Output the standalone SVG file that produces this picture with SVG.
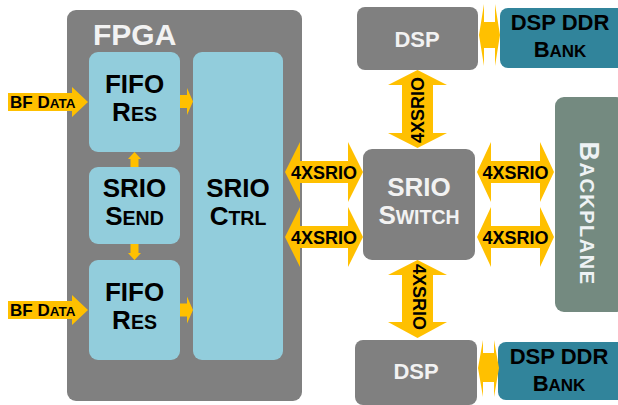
<svg xmlns="http://www.w3.org/2000/svg" width="618" height="405" viewBox="0 0 618 405">
<style>
text{font-family:"Liberation Sans",Arial,sans-serif;font-weight:bold;}
.arw{fill:#ffc000;}
.lb{fill:#92cddc;}
.gr{fill:#808080;}
.tl{fill:#31849b;}
.bk{fill:#000;}
.wt{fill:#f2f2f2;}
.big{font-size:26px;text-anchor:middle;}
.lbl{font-size:18px;text-anchor:middle;fill:#000;}
</style>
<rect width="618" height="405" fill="#fff"/>
<g id="fpga">
<rect x="67" y="10" width="235" height="391" rx="9" class="gr"/>
<text x="93" y="45" font-size="30" class="wt">FPGA</text>
</g>
<g id="fifo-res-top">
<rect x="89" y="52" width="91" height="100" rx="9" class="lb"/>
<text x="134.5" y="93" class="big bk">FIFO</text>
<text x="134.5" y="121" class="big bk">R<tspan font-size="19.5">ES</tspan></text>
</g>
<g id="srio-send">
<rect x="89" y="167" width="91" height="77" rx="9" class="lb"/>
<text x="134.5" y="197" class="big bk">SRIO</text>
<text x="134.5" y="225" class="big bk">S<tspan font-size="19.5">END</tspan></text>
</g>
<g id="fifo-res-bottom">
<rect x="89" y="260" width="91" height="100" rx="9" class="lb"/>
<text x="134.5" y="301" class="big bk">FIFO</text>
<text x="134.5" y="329" class="big bk">R<tspan font-size="19.5">ES</tspan></text>
</g>
<g id="srio-ctrl">
<rect x="193" y="52" width="90" height="308" rx="9" class="lb"/>
<text x="238" y="197" class="big bk">SRIO</text>
<text x="238" y="225" class="big bk">C<tspan font-size="19.5">TRL</tspan></text>
</g>
<g id="dsp-top">
<rect x="357" y="7" width="121" height="63" rx="8" class="gr"/>
<text x="417" y="47" font-size="22" text-anchor="middle" class="wt">DSP</text>
</g>
<g id="ddr-top">
<rect x="500" y="8" width="125" height="60" rx="8" class="tl"/>
<text x="560" y="30" font-size="22" text-anchor="middle" class="bk">DSP DDR</text>
<text x="560" y="57" font-size="22" text-anchor="middle" class="bk">B<tspan font-size="17">ANK</tspan></text>
</g>
<g id="srio-switch">
<rect x="363" y="149" width="112" height="111" rx="9" class="gr"/>
<text x="419" y="196" class="big wt">SRIO</text>
<text x="419" y="224" class="big wt">S<tspan font-size="19.5">WITCH</tspan></text>
</g>
<g id="backplane">
<rect x="555" y="97" width="70" height="215" rx="9" fill="#748a80"/>
<text transform="translate(580 213.5) rotate(90)" font-size="27" text-anchor="middle" letter-spacing="1.5" fill="#eef2f4">B<tspan font-size="20">ACKPLANE</tspan></text>
</g>
<g id="dsp-bottom">
<rect x="355" y="340" width="122" height="65" rx="8" class="gr"/>
<text x="416" y="379" font-size="22" text-anchor="middle" class="wt">DSP</text>
</g>
<g id="ddr-bottom">
<rect x="498" y="342" width="127" height="58" rx="8" class="tl"/>
<text x="559" y="364" font-size="22" text-anchor="middle" class="bk">DSP DDR</text>
<text x="559" y="391" font-size="22" text-anchor="middle" class="bk">B<tspan font-size="17">ANK</tspan></text>
</g>
<g id="connectors">
<polygon class="arw" points="8,93 72,93 72,87 88,102 72,117 72,111 8,111"/>
<text x="10" y="108" font-size="17" class="bk">BF D<tspan font-size="13.5">ATA</tspan></text>
<polygon class="arw" points="8,301 72,301 72,295 88,310 72,325 72,319 8,319"/>
<text x="10" y="316" font-size="17" class="bk">BF D<tspan font-size="13.5">ATA</tspan></text>
<polygon class="arw" points="180,95 187,95 187,88 193,101.5 187,115 187,108 180,108"/>
<polygon class="arw" points="180,303.5 187,303.5 187,296.5 193,310 187,323.5 187,316.5 180,316.5"/>
<polygon class="arw" points="130.5,167 130.5,159 128,159 134.5,152 141,159 138.5,159 138.5,167"/>
<polygon class="arw" points="130.5,244 130.5,253 128,253 134.5,260 141,253 138.5,253 138.5,244"/>
<polygon class="arw" points="285,172 300,142 300,161 348,161 348,142 363,172 348,202 348,183 300,183 300,202"/>
<text x="324" y="178.5" class="lbl">4XSRIO</text>
<polygon class="arw" points="285,237 300,207 300,226 348,226 348,207 363,237 348,267 348,248 300,248 300,267"/>
<text x="324" y="243.5" class="lbl">4XSRIO</text>
<polygon class="arw" points="477,172 491,142 491,161 540,161 540,142 554,172 540,202 540,183 491,183 491,202"/>
<text x="515.5" y="178.5" class="lbl">4XSRIO</text>
<polygon class="arw" points="477,237 491,207 491,226 540,226 540,207 554,237 540,267 540,248 491,248 491,267"/>
<text x="515.5" y="243.5" class="lbl">4XSRIO</text>
<polygon class="arw" points="417.5,70 447,85 433,85 433,133 447,133 417.5,148 388,133 402,133 402,85 388,85"/>
<text transform="translate(424 110) rotate(-90)" class="lbl">4XSRIO</text>
<polygon class="arw" points="417.5,260 447,275 433,275 433,322 447,322 417.5,338 388,322 402,322 402,275 388,275"/>
<text transform="translate(413 297) rotate(90)" class="lbl">4XSRIO</text>
<polygon class="arw" points="479,35 484,4 484,22 495,22 495,4 500,35 495,66 495,48 484,48 484,66"/>
<polygon class="arw" points="478,368 483,340 483,353 494,353 494,340 499,368 494,397 494,382 483,382 483,397"/>
</g>
</svg>
